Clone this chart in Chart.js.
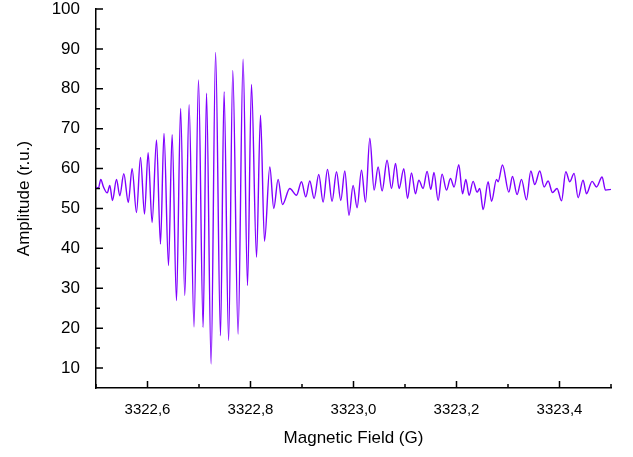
<!DOCTYPE html>
<html>
<head>
<meta charset="utf-8">
<script src="https://cdn.jsdelivr.net/npm/chart.js@4.4.0/dist/chart.umd.min.js"></script>
<style>
  html, body { margin: 0; padding: 0; background: #fff; }
  canvas { display: block; }
</style>
</head>
<body>
<canvas id="chart" width="633" height="457"></canvas>
<script>
// ─── Data ────────────────────────────────────────────

const fieldG = [
  3322.5000, 3322.5045, 3322.5093, 3322.5142, 3322.5219, 3322.5268, 3322.5320, 3322.5398, 3322.5462, 3322.5540,
  3322.5627, 3322.5701, 3322.5786, 3322.5864, 3322.5942, 3322.6012, 3322.6089, 3322.6175, 3322.6252, 3322.6320,
  3322.6408, 3322.6478, 3322.6563, 3322.6643, 3322.6724, 3322.6808, 3322.6903, 3322.6990, 3322.7080, 3322.7146,
  3322.7235, 3322.7322, 3322.7417, 3322.7487, 3322.7575, 3322.7656, 3322.7759, 3322.7856, 3322.7942, 3322.8019,
  3322.8117, 3322.8194, 3322.8272, 3322.8375, 3322.8452, 3322.8536, 3322.8621, 3322.8763, 3322.8893, 3322.8990,
  3322.9074, 3322.9151, 3322.9235, 3322.9326, 3322.9410, 3322.9495, 3322.9584, 3322.9670, 3322.9753, 3322.9831,
  3322.9913, 3322.9992, 3323.0070, 3323.0155, 3323.0233, 3323.0317, 3323.0400, 3323.0478, 3323.0555, 3323.0652,
  3323.0738, 3323.0816, 3323.0885, 3323.0977, 3323.1049, 3323.1126, 3323.1204, 3323.1268, 3323.1351, 3323.1429,
  3323.1501, 3323.1563, 3323.1643, 3323.1720, 3323.1806, 3323.1883, 3323.1953, 3323.2045, 3323.2117, 3323.2181,
  3323.2245, 3323.2322, 3323.2400, 3323.2452, 3323.2517, 3323.2614, 3323.2680, 3323.2777, 3323.2808, 3323.2893,
  3323.3016, 3323.3087, 3323.3177, 3323.3262, 3323.3359, 3323.3443, 3323.3520, 3323.3617, 3323.3701, 3323.3779,
  3323.3864, 3323.3953, 3323.4039, 3323.4122, 3323.4200, 3323.4283, 3323.4361, 3323.4458, 3323.4524, 3323.4633,
  3323.4718, 3323.4827, 3323.4893, 3323.5000
];

const amplitude = [
  55.4, 55.0, 57.3, 55.5, 53.9, 55.8, 52.0, 57.3, 53.2, 58.7,
  51.5, 60.0, 49.0, 62.8, 48.6, 64.0, 46.5, 67.2, 41.1, 68.8,
  35.7, 68.5, 26.9, 75.1, 28.2, 76.0, 20.3, 82.2, 20.2, 78.9,
  11.0, 89.1, 18.1, 79.3, 16.9, 84.6, 18.5, 87.4, 30.7, 81.1,
  37.8, 73.4, 41.8, 60.4, 50.0, 57.3, 51.0, 55.0, 53.3, 56.7,
  52.9, 56.9, 52.5, 58.5, 51.6, 59.8, 51.8, 59.2, 52.0, 59.4,
  48.3, 55.8, 50.2, 59.6, 51.6, 67.6, 54.6, 60.4, 54.4, 62.1,
  55.0, 61.3, 55.0, 60.0, 52.5, 58.9, 53.7, 57.1, 55.0, 59.3,
  54.8, 59.0, 52.0, 58.6, 54.6, 57.5, 55.4, 61.0, 53.7, 57.3,
  53.3, 56.8, 54.1, 55.0, 49.7, 56.7, 51.8, 57.3, 56.7, 60.9,
  54.1, 58.0, 53.5, 57.3, 52.2, 59.4, 56.0, 59.4, 55.4, 56.9,
  54.0, 55.0, 51.9, 59.2, 56.7, 58.8, 52.7, 57.1, 53.7, 56.8,
  55.4, 57.9, 54.6, 54.8
];

const xMajorTicks = [3322.6, 3322.8, 3323.0, 3323.2, 3323.4];
const xMinorTicks = [3322.5, 3322.7, 3322.9, 3323.1, 3323.3, 3323.5];
const yMajorTicks = [10, 20, 30, 40, 50, 60, 70, 80, 90, 100];
const yMinorTicks = [15, 25, 35, 45, 55, 65, 75, 85, 95];

const FONT = 'Liberation Sans, Arial, Helvetica, sans-serif';

// ticks drawn inward, major + minor
const inwardTicks = {
  id: 'inwardTicks',
  afterDatasetsDraw(chart) {
    const { ctx, chartArea, scales } = chart;
    ctx.save();
    ctx.strokeStyle = '#000';
    ctx.lineWidth = 1.5;
    ctx.beginPath();
    const drawX = (vals, len) => vals.forEach(v => {
      const px = scales.x.getPixelForValue(v);
      ctx.moveTo(px, chartArea.bottom);
      ctx.lineTo(px, chartArea.bottom - len);
    });
    const drawY = (vals, len) => vals.forEach(v => {
      const py = scales.y.getPixelForValue(v);
      ctx.moveTo(chartArea.left, py);
      ctx.lineTo(chartArea.left + len, py);
    });
    drawX(xMajorTicks, 7);
    drawX(xMinorTicks, 4);
    drawY(yMajorTicks, 7);
    drawY(yMinorTicks, 4);
    ctx.stroke();
    ctx.restore();
  }
};

const fmt = v => v.toFixed(1).replace('.', ',');

new Chart(document.getElementById('chart'), {
  type: 'line',
  data: {
    datasets: [{
      data: fieldG.map((x, i) => ({ x, y: amplitude[i] })),
      borderColor: '#8000ff',
      borderWidth: 1.4,
      pointRadius: 0,
      cubicInterpolationMode: 'monotone',
      fill: false,
    }],
  },
  options: {
    responsive: false,
    animation: false,
    layout: { padding: { top: 9, right: 22, left: 0, bottom: 0 } },
    plugins: {
      legend: { display: false },
      tooltip: { enabled: false },
    },
    scales: {
      x: {
        type: 'linear',
        min: 3322.5, max: 3323.5,
        afterBuildTicks: s => { s.ticks = xMajorTicks.map(value => ({ value })); },
        afterFit: s => { s.height = 69; s.paddingLeft = 0; s.paddingRight = 0; },
        grid: { display: false, drawTicks: false },
        border: { display: true, color: '#000', width: 1.5 },
        ticks: {
          autoSkip: false, maxRotation: 0, padding: 13,
          color: '#000',
          font: { family: FONT, size: 15 },
          callback: v => fmt(v),
        },
        title: {
          display: true, text: 'Magnetic Field (G)', color: '#000',
          font: { family: FONT, size: 17 },
          padding: { top: 0, bottom: 8 },
        },
      },
      y: {
        min: 5, max: 100,
        afterBuildTicks: s => { s.ticks = yMajorTicks.map(value => ({ value })); },
        afterFit: s => { s.width = 96; s.paddingTop = 0; s.paddingBottom = 0; },
        grid: { display: false, drawTicks: false },
        border: { display: true, color: '#000', width: 1.5 },
        ticks: {
          autoSkip: false, padding: 16,
          color: '#000',
          font: { family: FONT, size: 17 },
        },
        title: {
          display: true, text: 'Amplitude (r.u.)', color: '#000',
          font: { family: FONT, size: 17 },
          padding: { top: 14, bottom: 0 },
        },
      },
    },
  },
  plugins: [inwardTicks],
});
</script>
</body>
</html>
